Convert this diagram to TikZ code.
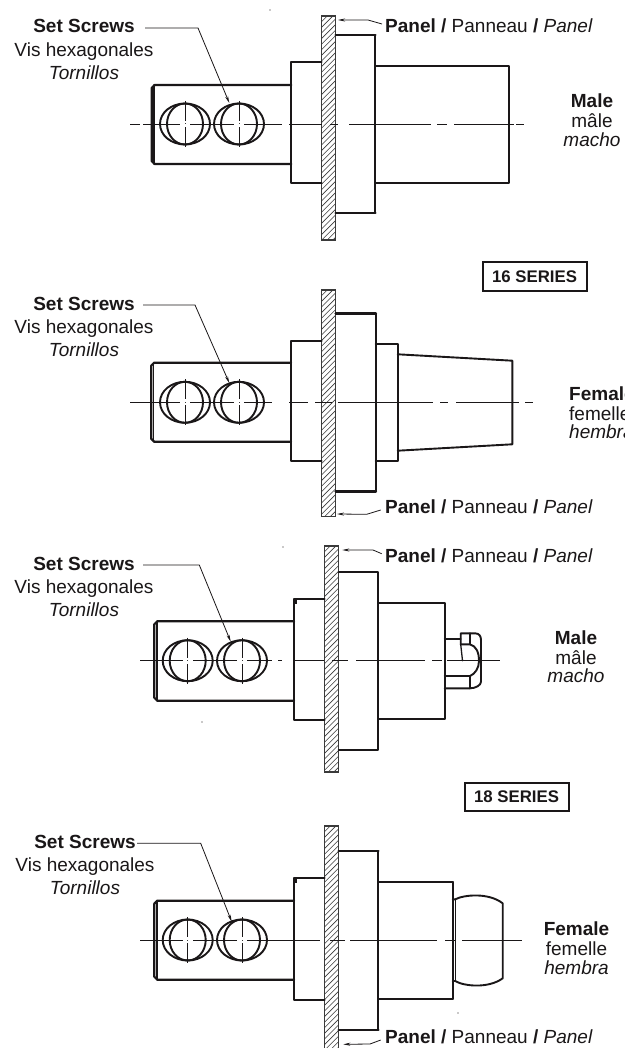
\documentclass[tikz,border=0pt]{standalone}
\usepackage{fontspec}
\setmainfont{Liberation Sans}
\usetikzlibrary{arrows.meta}
\definecolor{ink}{HTML}{1A1718}
\definecolor{hatchc}{HTML}{3A3A3A}
\newcommand{\bigfont}{\fontsize{19}{22}\selectfont}
\tikzset{
  body/.style={draw=ink,line width=1.9pt,line join=round,line cap=round},
  heavy/.style={draw=ink,line width=2.8pt,line cap=round},
  cl/.style={draw=ink,line width=0.8pt},
  arrowlead/.style={draw=ink,line width=0.8pt,{Stealth[length=7pt,width=3pt]}-},
  arrowend/.style={draw=ink,line width=0.8pt,-{Stealth[length=7pt,width=3pt]}},
  txt/.style={inner sep=0pt,anchor=base,text=ink,font=\bigfont},
  txtl/.style={inner sep=0pt,anchor=base west,text=ink,font=\bigfont},
  series/.style={draw=ink,line width=2pt,inner sep=0pt,minimum width=104pt,minimum height=28pt,text=ink,font=\fontsize{16.8}{20}\selectfont\bfseries},
  speck/.style={fill=ink,draw=none}
}
% panel: x1 x2 y1 y2
\newcommand{\panel}[4]{%
  \begin{scope}
    \clip (#1,#3) rectangle (#2,#4);
    \foreach \k in {-30,...,60}{
      \draw[hatchc,line width=0.6pt] (#1,#3+\k*5.6) -- ++(14,-14);
    }
  \end{scope}
  \draw[hatchc,line width=1.1pt] (#1,#3) rectangle (#2,#4);
}
% holes: cx1 cx2 cy
\newcommand{\holes}[3]{%
  \foreach \c in {#1,#2}{
    \draw[body] (\c,#3) ellipse [x radius=25,y radius=20.5];
    \draw[body] (\c,#3) ellipse [x radius=18,y radius=20.5];
    \draw[cl] (\c,#3-23) -- (\c,#3+23);
    \fill[white] (\c-3,#3-3) rectangle (\c+3,#3+3);
    \fill[hatchc] (\c-0.5,#3-0.5) rectangle (\c+0.5,#3+0.5);
  }
}
% shaft: x1 x2 y1 y2
\newcommand{\shaft}[4]{%
  \draw[body,line width=2.2pt] (#2,#3) -- (#1+3,#3) -- (#1,#3+3) -- (#1,#4-3) -- (#1+3,#4) -- (#2,#4);
  \draw[body,line width=1.5pt] (#1+2.5,#3) -- (#1+2.5,#4);
}
\begin{document}
\begin{tikzpicture}[x=1pt,y=-1pt]
\path[use as bounding box,clip] (0,0) rectangle (624,1048);
\fill[white] (0,0) rectangle (624,1048);

%%% Drawing 1
\panel{321.7}{335.7}{16}{240}
\draw[heavy] (335.7,35) -- (375.3,35);
\draw[heavy] (335.7,213) -- (375.3,213);
\draw[body] (375.3,35) -- (375.3,213);
\draw[body] (321.7,62) -- (291.3,62) -- (291.3,183) -- (321.7,183);
\shaft{151.7}{291.3}{85}{164}
\draw[body] (375.3,66) -- (509,66) -- (509,183) -- (375.3,183);
\holes{185}{239}{124}
\draw[cl] (130,124) -- (140,124) (143,124) -- (180,124) (190,124) -- (234,124) (244,124) -- (282,124) (289,124) -- (322,124) (330,124) -- (338,124) (349,124) -- (431,124) (437,124) -- (447,124) (454,124) -- (514,124) (516,124) -- (524,124);
\node[txt,font=\bigfont\bfseries] (a1) at (84,33) {Set Screws};
\node[txt] (a2) at (84,57) {Vis hexagonales};
\node[txt,font=\bigfont\itshape] (a3) at (84,80) {Tornillos};
\coordinate (a4) at (145,28); \coordinate (a5) at (198,28); \coordinate (a6) at (229.3,103);
\draw[arrowend] (a4) -- (a5) -- (a6);
\node[txtl] (a7) at (385,33) {\textbf{Panel /} Panneau \textbf{/} \textit{Panel}};
\coordinate (a8) at (338,20); \coordinate (a9) at (368,20); \coordinate (a10) at (382,24);
\draw[arrowlead] (a8) -- (a9) -- (a10);
\node[txt,font=\bigfont\bfseries] (a11) at (592,108) {Male};
\node[txt] (a12) at (592,128) {mâle};
\node[txt,font=\bigfont\itshape] (a13) at (592,147) {macho};
\node[series] (a14) at (534.5,276.5) {16 SERIES};

%%% Drawing 2
\panel{321.7}{335.7}{290}{516.7}
\draw[heavy] (335.7,313.3) -- (375.7,313.3);
\draw[heavy] (335.7,491.7) -- (375.7,491.7);
\draw[body] (375.7,313.3) -- (375.7,491.7);
\draw[body] (321.7,340.7) -- (291,340.7) -- (291,461) -- (321.7,461);
\shaft{151.2}{291}{362.7}{441.7}
\draw[body] (375.7,344) -- (397.7,344) -- (397.7,460.7) -- (375.7,460.7);
\draw[body] (397.7,354.3) -- (512.3,360.7) -- (512.3,444.3) -- (397.7,450.7);
\holes{185}{239}{402.3}
\draw[cl] (130,402.3) -- (180,402.3) (190,402.3) -- (234,402.3) (244,402.3) -- (272,402.3) (289,402.3) -- (308,402.3) (315,402.3) -- (332,402.3) (338,402.3) -- (433,402.3) (440,402.3) -- (448,402.3) (456,402.3) -- (519,402.3) (525,402.3) -- (533,402.3);
\node[txt,font=\bigfont\bfseries] (b1) at (84,310) {Set Screws};
\node[txt] (b2) at (84,333) {Vis hexagonales};
\node[txt,font=\bigfont\itshape] (b3) at (84,356) {Tornillos};
\coordinate (b4) at (143,305); \coordinate (b5) at (195,305); \coordinate (b6) at (229.3,383);
\draw[arrowend] (b4) -- (b5) -- (b6);
\node[txtl] (b7) at (385,513) {\textbf{Panel /} Panneau \textbf{/} \textit{Panel}};
\coordinate (b8) at (337,514); \coordinate (b9) at (366.7,514.3); \coordinate (b10) at (380.7,510);
\draw[arrowlead] (b8) -- (b9) -- (b10);
\node[txtl,font=\bigfont\bfseries] (b11) at (569,400) {Female};
\node[txtl] (b12) at (569,420) {femelle};
\node[txtl,font=\bigfont\itshape] (b13) at (569,438) {hembra};

%%% Drawing 3
\panel{324.7}{338.7}{546}{772}
\draw[body] (338.7,572.3) -- (378,572.3) -- (378,750.3) -- (338.7,750.3);
\draw[body] (324.7,599.3) -- (294,599.3) -- (294,720.3) -- (324.7,720.3);
\fill[ink] (294,599) rectangle (297,604);
\shaft{154.3}{294}{621.3}{700.7}
\draw[body] (378,602.7) -- (444.7,602.7) -- (444.7,719.3) -- (378,719.3);
\holes{187.7}{242}{660.7}
\draw[cl] (140,660.7) -- (183,660.7) (193,660.7) -- (237,660.7) (247,660.7) -- (272,660.7) (278,660.7) -- (282,660.7) (294,660.7) -- (324,660.7) (332,660.7) -- (348,660.7) (356,660.7) -- (425,660.7) (432,660.7) -- (441.7,660.7) (447,660.7) -- (500,660.7);
\draw[body] (444.7,639.3) -- (460.7,639.3);
\draw[body] (460.7,644.3) -- (460.7,633.3) -- (475,633.3) .. controls (479,633.3) and (481,636) .. (481,640) -- (481,681.7) .. controls (481,685) and (476,688.3) .. (470,688.3) -- (444.7,688.3);
\draw[body] (444.7,676) -- (470,676) -- (470,688.3);
\draw[body] (470,633.3) -- (470,644.3);
\draw[body] (460.7,644.3) -- (470,644.3) .. controls (476,646) and (479,652) .. (479,661) .. controls (479,668) and (475,674) .. (470,676);
\draw[body,line width=1.3pt] (460.7,644.3) -- (462.5,660.7);
\node[txt,font=\bigfont\bfseries] (c1) at (84,570) {Set Screws};
\node[txt] (c2) at (84,593) {Vis hexagonales};
\node[txt,font=\bigfont\itshape] (c3) at (84,616) {Tornillos};
\coordinate (c4) at (143,565); \coordinate (c5) at (199.3,565); \coordinate (c6) at (230.7,641.7);
\draw[arrowend] (c4) -- (c5) -- (c6);
\node[txtl] (c7) at (385,562) {\textbf{Panel /} Panneau \textbf{/} \textit{Panel}};
\coordinate (c8) at (342.3,550); \coordinate (c9) at (373,550); \coordinate (c10) at (381.7,553.7);
\draw[arrowlead] (c8) -- (c9) -- (c10);
\node[txt,font=\bigfont\bfseries] (c11) at (576,644) {Male};
\node[txt] (c12) at (576,664) {mâle};
\node[txt,font=\bigfont\itshape] (c13) at (576,682) {macho};
\node[series] (c14) at (516.5,796.5) {18 SERIES};

%%% Drawing 4
\panel{324.7}{338.7}{826}{1054}
\draw[heavy] (338.7,851) -- (378.3,851);
\draw[heavy] (338.7,1030) -- (378.3,1030);
\draw[body] (378.3,851) -- (378.3,1030);
\draw[body] (324.7,878.3) -- (294,878.3) -- (294,1000) -- (324.7,1000);
\fill[ink] (294,878) rectangle (297,883);
\shaft{154.3}{294}{900.7}{979.7}
\draw[body] (378.3,999) -- (452.7,999);
\draw[heavy,line width=2.4pt] (378.3,882) -- (452.7,882);
\draw[body] (452.7,882) -- (452.7,999);
\draw[body,line width=1.5pt] (455.3,899.3) -- (455.3,981);
\draw[body] (452.7,899.3) -- (455.3,899.3) .. controls (463,895) and (488,892) .. (502.7,903.3) -- (502.7,978.3) .. controls (488,989) and (463,986) .. (455.3,981) -- (452.7,981);
\holes{187.7}{242}{940}
\draw[cl] (140,940) -- (183,940) (193,940) -- (237,940) (247,940) -- (320,940) (330,940) -- (345,940) (350,940) -- (437,940) (445,940) -- (455,940) (462,940) -- (521.7,940);
\node[txt,font=\bigfont\bfseries] (d1) at (85,848) {Set Screws};
\node[txt] (d2) at (85,871) {Vis hexagonales};
\node[txt,font=\bigfont\itshape] (d3) at (85,894) {Tornillos};
\coordinate (d4) at (137,843.3); \coordinate (d5) at (200.7,843.3); \coordinate (d6) at (231.7,921.7);
\draw[arrowend] (d4) -- (d5) -- (d6);
\node[txtl] (d7) at (385,1043) {\textbf{Panel /} Panneau \textbf{/} \textit{Panel}};
\coordinate (d8) at (343.3,1044.3); \coordinate (d9) at (370,1044); \coordinate (d10) at (380.7,1040);
\draw[arrowlead] (d8) -- (d9) -- (d10);
\node[txt,font=\bigfont\bfseries] (d11) at (576.5,935) {Female};
\node[txt] (d12) at (576.5,955) {femelle};
\node[txt,font=\bigfont\itshape] (d13) at (576.5,974) {hembra};

%%% specks
\fill[speck] (270,10) circle (0.7);
\fill[speck] (283,547) circle (0.7);
\fill[speck] (202,722) circle (0.7);
\fill[speck] (458,1013) circle (0.7);
\end{tikzpicture}
\end{document}
